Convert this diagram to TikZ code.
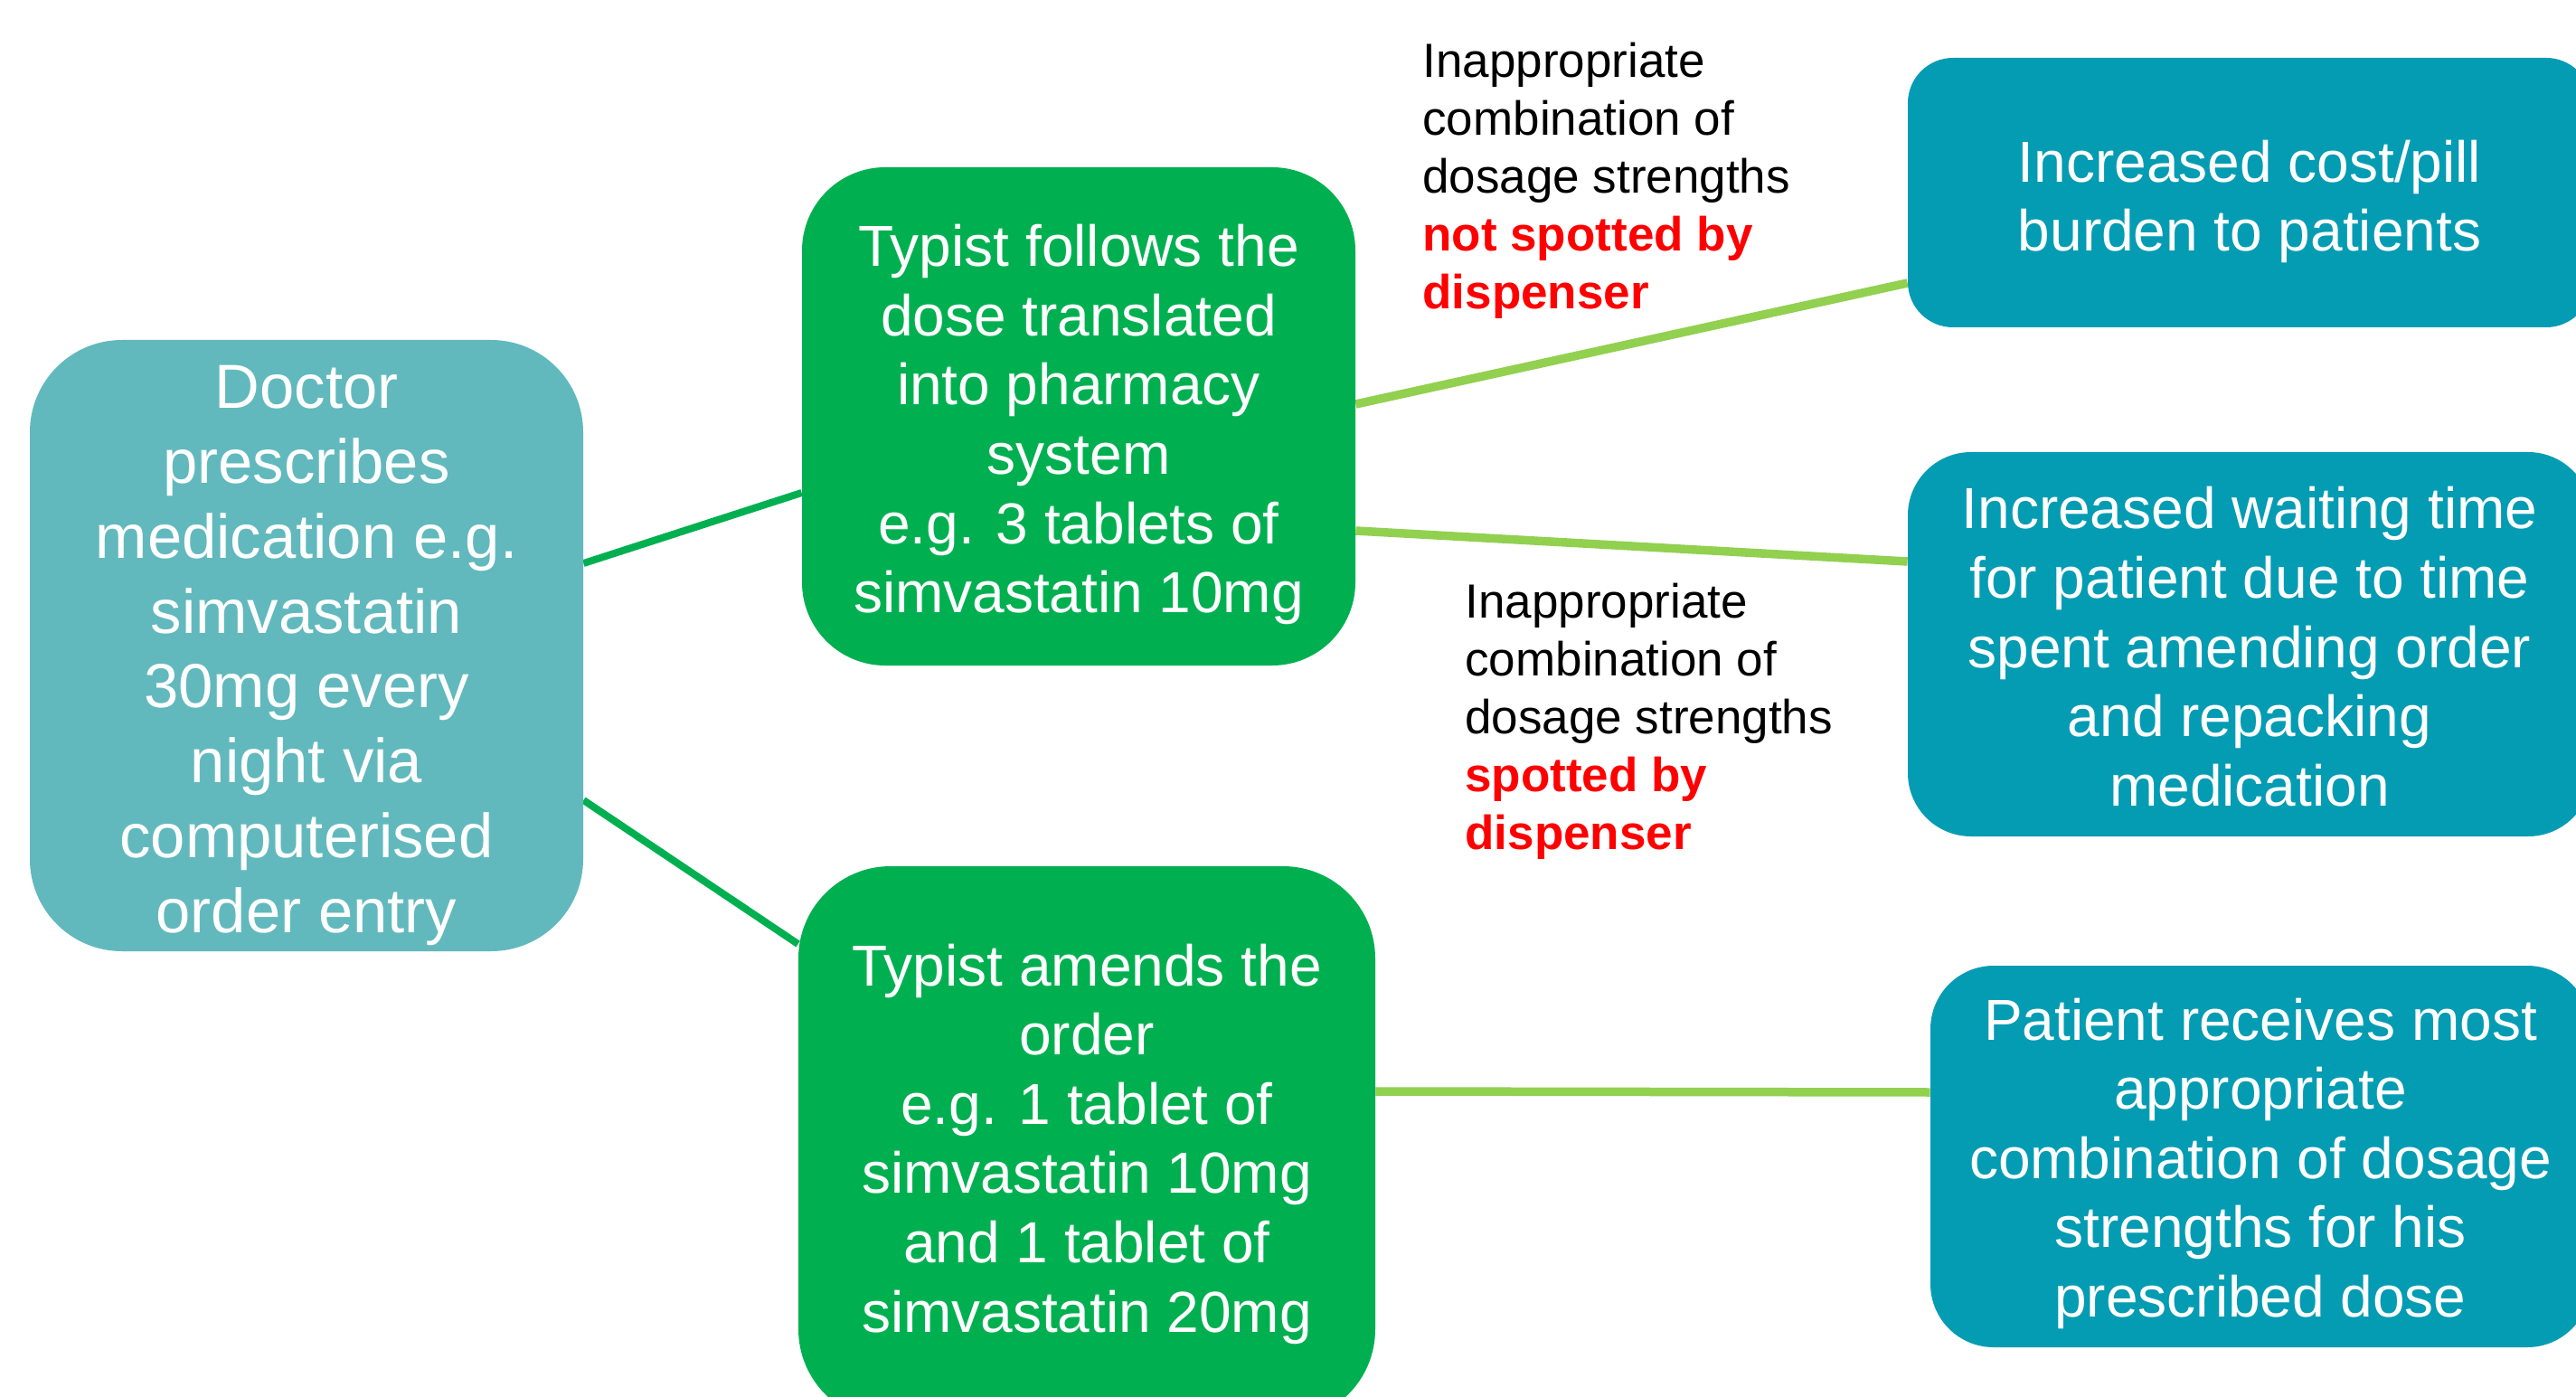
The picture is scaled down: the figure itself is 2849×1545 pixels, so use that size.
\documentclass[tikz,border=0pt]{standalone}
\usepackage{fontspec}
\setmainfont{Liberation Sans}
\usetikzlibrary{backgrounds}
\definecolor{docfill}{HTML}{61B9BD}
\definecolor{gfill}{HTML}{00B050}
\definecolor{tfill}{HTML}{039CB3}
\definecolor{lgreen}{HTML}{92D050}
\definecolor{redtxt}{HTML}{FF0000}
\newcommand{\topstrut}[1]{\rule{0pt}{#1}}
\tikzset{
  box/.style={fill=#1, draw=none, text=white, align=center, inner sep=0pt},
  doctxt/.style={font=\fontsize{34.4}{41.4}\selectfont},
  boxtxt/.style={font=\fontsize{32}{38.3}\selectfont},
  lbl/.style={align=left, anchor=north west, inner sep=0pt, text=black, font=\fontsize{26.5}{32}\selectfont},
  darklink/.style={draw=gfill, line width=4pt},
  lightlink/.style={draw=lgreen, line width=4.75pt},
}
\begin{document}
\begin{tikzpicture}[x=0.5pt,y=-0.5pt]
\useasboundingbox (0,0) rectangle (2849,1545);
\clip (0,0) rectangle (2849,1545);

\node[box=docfill, doctxt, minimum width=306pt, minimum height=338pt, rounded corners=51pt] (doc) at (339,714)
  {\topstrut{34.6pt}Doctor\\prescribes\\medication e.g.\\simvastatin\\30mg every\\night via\\computerised\\order entry};
\node[box=gfill, boxtxt, minimum width=306pt, minimum height=275.5pt, rounded corners=46pt] (t1) at (1193,460.5)
  {\topstrut{32.4pt}Typist follows the\\dose translated\\into pharmacy\\system\\e.g. 3 tablets of\\simvastatin 10mg};
\node[box=gfill, boxtxt, minimum width=319pt, minimum height=307pt, rounded corners=51pt] (t2) at (1202,1265)
  {Typist amends the\\order\\e.g. 1 tablet of\\simvastatin 10mg\\and 1 tablet of\\simvastatin 20mg};
\node[box=tfill, boxtxt, minimum width=378pt, minimum height=149pt, rounded corners=25pt] (r1) at (2488,213)
  {\topstrut{33pt}Increased cost/pill\\burden to patients};
\node[box=tfill, boxtxt, minimum width=378pt, minimum height=212.5pt, rounded corners=35pt] (r2) at (2488,712.5)
  {\topstrut{26pt}Increased waiting time\\for patient due to time\\spent amending order\\and repacking\\medication};
\node[box=tfill, boxtxt, minimum width=365pt, minimum height=211pt, rounded corners=35pt] (r3) at (2500,1279)
  {\topstrut{31pt}Patient receives most\\appropriate\\combination of dosage\\strengths for his\\prescribed dose};

\node[lbl] (l1) at (1573,47)
  {Inappropriate\\combination of\\dosage strengths\\\textcolor{redtxt}{\bfseries not spotted by}\\\textcolor{redtxt}{\bfseries dispenser}};
\node[lbl] (l2) at (1620,645)
  {Inappropriate\\combination of\\dosage strengths\\\textcolor{redtxt}{\bfseries spotted by}\\\textcolor{redtxt}{\bfseries dispenser}};

\begin{scope}[on background layer]
\draw[darklink] ([yshift=45.5pt]doc.east) -- ([yshift=-42.25pt]t1.west);
\draw[darklink] ([yshift=-85.5pt]doc.east) -- ([yshift=110.5pt]t2.west);
\draw[lightlink] ([yshift=6.75pt]t1.east) -- ([yshift=-50pt]r1.west);
\draw[lightlink] ([yshift=-63.25pt]t1.east) -- ([yshift=45.75pt]r2.west);
\draw[lightlink] ([yshift=29pt]t2.east) -- ([yshift=35.5pt]r3.west);
\end{scope}
\end{tikzpicture}
\end{document}
